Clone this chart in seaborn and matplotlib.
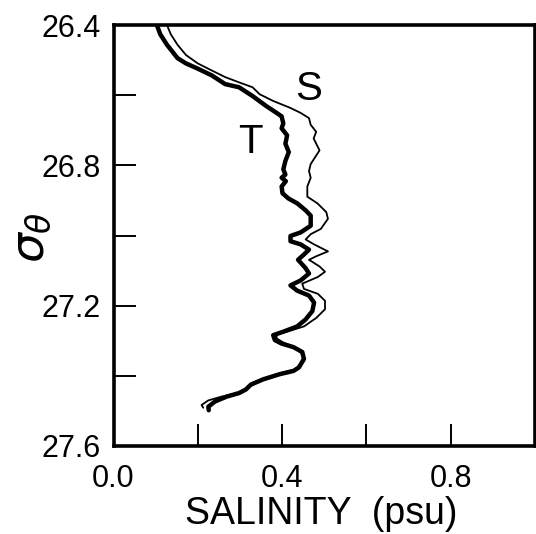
import matplotlib
matplotlib.use("Agg")
import matplotlib.pyplot as plt
import seaborn as sns
import pandas as pd

# T curve (thick)
t_sal = [0.103, 0.111, 0.127, 0.152, 0.172, 0.200, 0.233, 0.265, 0.298, 0.330,
         0.363, 0.387, 0.399, 0.403, 0.399, 0.412, 0.408, 0.416, 0.408, 0.403,
         0.408, 0.399, 0.409, 0.399, 0.401, 0.415, 0.436, 0.456, 0.468, 0.468,
         0.444, 0.420, 0.420, 0.444, 0.464, 0.451, 0.438, 0.456, 0.464, 0.444,
         0.420, 0.436, 0.464, 0.476, 0.472, 0.456, 0.436, 0.403, 0.379, 0.383,
         0.399, 0.427, 0.448, 0.452, 0.440, 0.427, 0.395, 0.355, 0.326, 0.314,
         0.298, 0.269, 0.241, 0.225, 0.226]
t_sigma = [26.400, 26.426, 26.456, 26.494, 26.509, 26.524, 26.543, 26.568, 26.577, 26.602,
           26.631, 26.650, 26.660, 26.680, 26.694, 26.714, 26.738, 26.762, 26.787, 26.811,
           26.826, 26.835, 26.845, 26.860, 26.879, 26.894, 26.908, 26.928, 26.943, 26.972,
           26.991, 27.001, 27.016, 27.025, 27.040, 27.055, 27.069, 27.093, 27.108, 27.128,
           27.142, 27.157, 27.171, 27.191, 27.215, 27.239, 27.259, 27.274, 27.284, 27.298,
           27.308, 27.318, 27.332, 27.352, 27.376, 27.386, 27.395, 27.410, 27.425, 27.439,
           27.449, 27.459, 27.473, 27.488, 27.498]

# S curve (thin)
s_sal = [0.127, 0.136, 0.152, 0.172, 0.200, 0.233, 0.265, 0.298, 0.330, 0.347,
         0.379, 0.420, 0.444, 0.464, 0.468, 0.481, 0.475, 0.489, 0.468, 0.464,
         0.468, 0.460, 0.460, 0.484, 0.505, 0.509, 0.492, 0.468, 0.456, 0.476,
         0.509, 0.481, 0.464, 0.489, 0.502, 0.485, 0.448, 0.452, 0.485, 0.502,
         0.502, 0.481, 0.452, 0.412, 0.387, 0.387, 0.403, 0.430, 0.452, 0.444,
         0.432, 0.395, 0.355, 0.326, 0.314, 0.298, 0.257, 0.225, 0.209, 0.213]
s_sigma = [26.400, 26.426, 26.456, 26.485, 26.509, 26.529, 26.548, 26.563, 26.577, 26.597,
           26.616, 26.636, 26.650, 26.665, 26.684, 26.704, 26.723, 26.757, 26.796, 26.816,
           26.835, 26.860, 26.889, 26.908, 26.933, 26.952, 26.981, 26.996, 27.011, 27.025,
           27.045, 27.059, 27.069, 27.088, 27.103, 27.118, 27.137, 27.152, 27.166, 27.186,
           27.210, 27.235, 27.259, 27.274, 27.282, 27.293, 27.305, 27.318, 27.342, 27.366,
           27.381, 27.393, 27.408, 27.422, 27.438, 27.448, 27.459, 27.470, 27.483, 27.491]

x_ticks = [0.0, 0.2, 0.4, 0.6, 0.8, 1.0]
x_ticklabels = ["0.0", "", "0.4", "", "0.8", ""]
y_ticks = [26.4, 26.6, 26.8, 27.0, 27.2, 27.4, 27.6]
y_ticklabels = ["26.4", "", "26.8", "", "27.2", "", "27.6"]

sns.set_theme(style="white")
plt.rcParams['font.family'] = ['Liberation Sans', 'DejaVu Sans']
plt.rcParams['mathtext.fontset'] = 'dejavusans'

fig = plt.figure(figsize=(5.36, 5.34), dpi=100)
ax = fig.add_axes([0.2118, 0.1648, 0.786, 0.788])

dft = pd.DataFrame({"sal": t_sal, "sigma": t_sigma})
dfs = pd.DataFrame({"sal": s_sal, "sigma": s_sigma})
sns.lineplot(data=dft, x="sal", y="sigma", sort=False, estimator=None,
             color="black", linewidth=3.2, ax=ax)
sns.lineplot(data=dfs, x="sal", y="sigma", sort=False, estimator=None,
             color="black", linewidth=1.3, ax=ax)

ax.set_xlim(0.0, 1.0)
ax.set_ylim(27.6, 26.4)
ax.set_xticks(x_ticks)
ax.set_xticklabels(x_ticklabels)
ax.set_yticks(y_ticks)
ax.set_yticklabels(y_ticklabels)
ax.tick_params(axis='both', direction='in', length=16, width=1.4, color='black',
               labelsize=22, labelcolor='black')
ax.tick_params(axis='x', pad=13, bottom=True, top=False)
ax.tick_params(axis='y', pad=9, left=True, right=False)
for sp in ax.spines.values():
    sp.set_visible(True)
    sp.set_color('black')
    sp.set_linewidth(2.6)

ax.set_xlabel("")
ax.set_ylabel("")
ax.text(0.464, 26.582, "S", fontsize=29, ha='center', va='center', color='black')
ax.text(0.326, 26.733, "T", fontsize=29, ha='center', va='center', color='black')

fig.text(0.600, 0.004, "SALINITY  (psu)", fontsize=27, ha='center', va='bottom', color='black')
fig.text(0.058, 0.555, r"$\sigma_\theta$", fontsize=34, rotation=90, ha='center', va='center', color='black')

fig.savefig("out.png", dpi=100, facecolor='white')
